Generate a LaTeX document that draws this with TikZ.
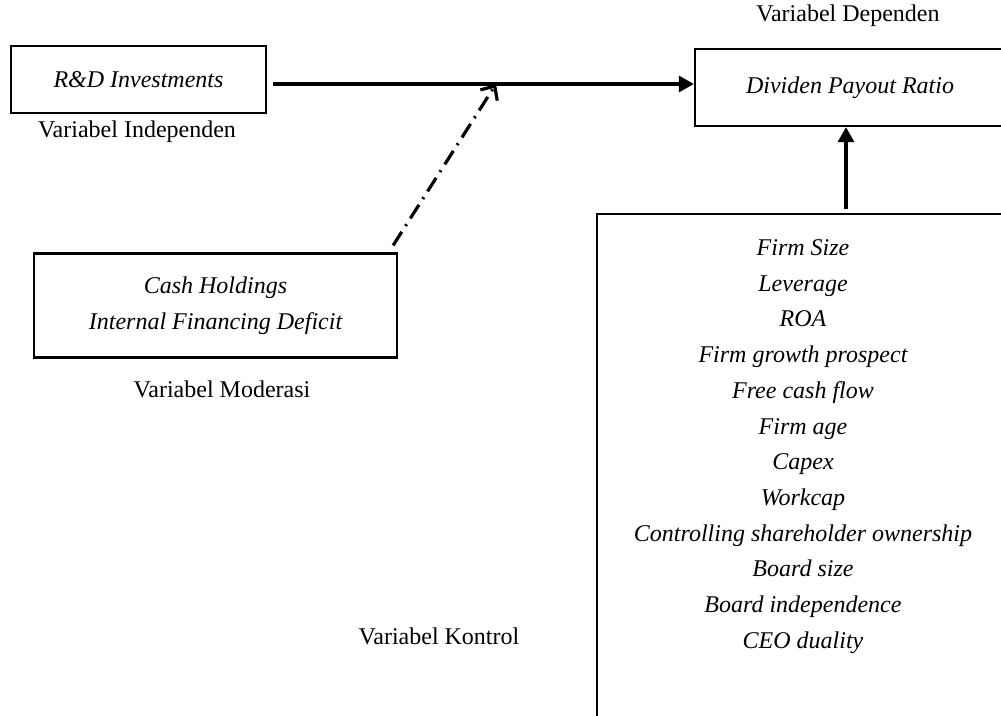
\documentclass[tikz,border=0pt]{standalone}
\usepackage{fontspec}
\setmainfont{Liberation Serif}
\usetikzlibrary{arrows.meta}
\begin{document}
\begin{tikzpicture}[x=1pt,y=-1pt,
  box/.style={draw, line width=2.3pt, inner sep=0pt},
  lbl/.style={font=\fontsize{24}{28}\selectfont, inner sep=0pt},
  ilbl/.style={font=\fontsize{24}{35.7}\selectfont\itshape, align=center, inner sep=0pt},
  mainarrow/.style={line width=3.2pt, -{Triangle[length=15pt,width=16pt]}},
  moderarrow/.style={line width=3.2pt, dash pattern=on 16pt off 7pt on 2pt off 7pt, -{Straight Barb[length=11pt,width=20pt]}}]
\useasboundingbox (0,0) rectangle (1001,715);

% boxes
\node[box, ilbl, minimum width=255pt, minimum height=67pt] (rd) at (138.5,79.5) {R\&D Investments};
\node[box, ilbl, minimum width=310pt, minimum height=77pt] (dv) at (850,87.5) {Dividen Payout Ratio};
\node[box, ilbl, minimum width=363pt, minimum height=104pt] (cash) at (215.5,305.5) {Cash Holdings\\Internal Financing Deficit};
\node[box, minimum width=408pt, minimum height=506pt] (ctrl) at (801,467) {};
\node[ilbl] (ctrllist) at (803,446.5) {Firm Size\\Leverage\\ROA\\Firm growth prospect\\Free cash flow\\Firm age\\Capex\\Workcap\\Controlling shareholder ownership\\Board size\\Board independence\\CEO duality};

% labels
\node[lbl] (lind) at (137,132) {Variabel Independen};
\node[lbl] (ldep) at (848,16) {Variabel Dependen};
\node[lbl] (lmod) at (222,389) {Variabel Moderasi};
\node[lbl] (lkon) at (439,636) {Variabel Kontrol};

% connectors
\coordinate (m) at (496,84);
\coordinate (cx) at (846,0);
\draw[mainarrow, shorten <=6pt] (rd.east |- m) -- (dv.west |- m);
\draw[moderarrow] ([xshift=-5pt,yshift=7pt]cash.north east) -- (m);
\draw[mainarrow, shorten <=4pt] (ctrl.north -| cx) -- (dv.south -| cx);
\end{tikzpicture}
\end{document}
